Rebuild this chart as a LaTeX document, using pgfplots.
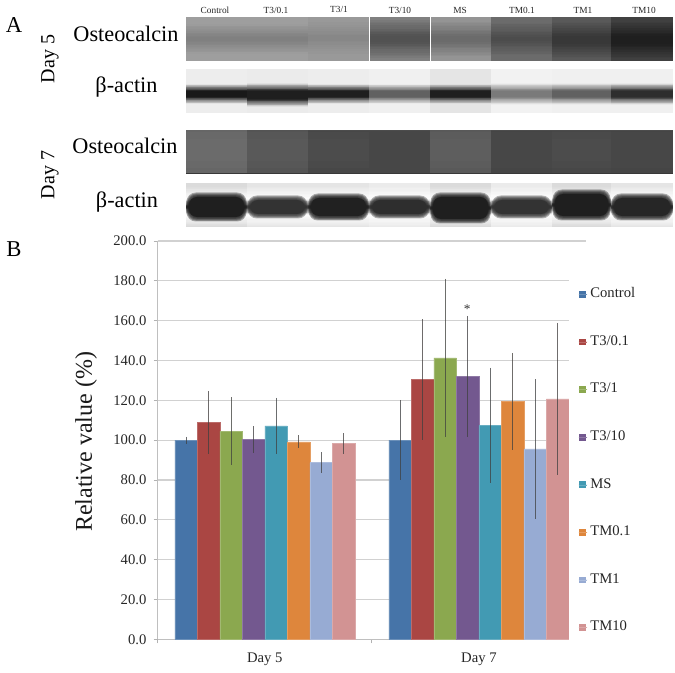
\documentclass[border=0pt]{standalone}
\usepackage{fontspec}
\setmainfont{Liberation Serif}
\usepackage{pgfplots}
\pgfplotsset{compat=1.18}
\definecolor{cA}{HTML}{4674A8}
\definecolor{cB}{HTML}{AA4643}
\definecolor{cC}{HTML}{8BA84F}
\definecolor{cD}{HTML}{73588F}
\definecolor{cE}{HTML}{429AB3}
\definecolor{cF}{HTML}{DE863C}
\definecolor{cG}{HTML}{97ABD3}
\definecolor{cH}{HTML}{D29393}
\definecolor{tx}{gray}{0.15}
% vertical gradient in strips: x0 x1 y0 y1 dark0 dark1
\newcommand{\grad}[6]{%
  \foreach \k in {0,...,9}{%
    \pgfmathtruncatemacro{\dd}{#5+(#6-(#5))*(\k+0.5)/10}%
    \pgfmathsetmacro{\ya}{#3+(#4-(#3))*\k/10}%
    \pgfmathsetmacro{\yb}{#3+(#4-(#3))*(\k+1.15)/10}%
    \fill[black!\dd!white] (#1,\ya) rectangle (#2,\yb);
  }%
}
% lane: x0 x1 ytop ybot bgdark banddark bandcentre bandcore bandsoft
\newcommand{\lane}[9]{%
  \fill[black!#5!white] (#1,#3) rectangle (#2,#4);
  \grad{#1}{#2}{#7-#8-#9}{#7-#8}{#5}{#6}
  \fill[black!#6!white] (#1,#7-#8) rectangle (#2,#7+#8);
  \grad{#1}{#2}{#7+#8}{#7+#8+#9}{#6}{#5}
}
% blob: x0 x1 bgdark dark centre halfheight (row 4)
\newcommand{\blob}[6]{%
  \begin{scope}
  \clip (#1,183.5) rectangle (#2,227);
  \fill[black!#3!white] (#1,183.5) rectangle (#2,227);
  \grad{#1}{#2}{187}{199}{#3}{1}
  \fill[black!1!white] (#1,198) rectangle (#2,216);
  \grad{#1}{#2}{215}{226}{1}{#3}
  \grad{#1}{#2}{#5-8}{#5}{1}{#4}
  \grad{#1}{#2}{#5}{#5+8}{#4}{1}
  \foreach \k in {5,4,3,2,1}
    \fill[black!#4!white,opacity=0.35,rounded corners=7pt]
      ({#1+3-\k*0.5},{#5-#6-\k*0.9}) rectangle ({#2-3+\k*0.5},{#5+#6+\k*0.9});
  \fill[black!#4!white,rounded corners=6pt] (#1+3,#5-#6) rectangle (#2-3,#5+#6);
  \end{scope}
}
\begin{document}
\begin{tikzpicture}
\begin{scope}[x=0.75pt,y=-0.75pt]
\path[use as bounding box] (0,0) rectangle (675,673);
% row 1 Osteocalcin day 5
\lane{186}{247}{17}{61}{38}{50}{39}{2}{14}
\lane{247}{308}{17}{61}{38}{50}{39}{2}{14}
\lane{308}{369}{17}{61}{40}{47}{38}{3}{14}
\lane{369.5}{430}{17}{61}{50}{68}{39}{3}{18}
\lane{430.5}{491}{17}{61}{42}{58}{39}{3}{16}
\lane{491}{552}{17}{61}{58}{70}{39}{2}{16}
\lane{552}{611}{17}{61}{65}{78}{40}{4}{16}
\lane{611}{673}{17}{61}{75}{88}{40}{4}{16}
% row 2 beta-actin day 5
\lane{186}{247}{69.5}{113}{7}{90}{94}{3}{7}
\lane{247}{308}{69.5}{113}{8}{88}{95}{4}{8}
\lane{308}{369}{69.5}{113}{7}{88}{94}{3}{7}
\lane{369}{430}{69.5}{113}{6}{62}{94}{3}{7}
\lane{430}{491}{69.5}{113}{10}{88}{94}{3}{7}
\lane{491}{552}{69.5}{113}{5}{52}{94}{3}{8}
\lane{552}{611}{69.5}{113}{6}{62}{94}{3}{8}
\lane{611}{673}{69.5}{113}{6}{82}{94}{3}{8}
% row 3 Osteocalcin day 7
\lane{186}{247}{130}{173}{60}{58}{150}{4}{14}
\lane{247}{308}{130}{173}{67}{65}{150}{4}{14}
\lane{308}{369}{130}{173}{72}{70}{150}{4}{14}
\lane{369}{430}{130}{173}{72}{72}{150}{4}{14}
\lane{430}{491}{130}{173}{65}{63}{150}{4}{14}
\lane{491}{552}{130}{173}{73}{72}{150}{4}{14}
\lane{552}{611}{130}{173}{72}{70}{150}{4}{14}
\lane{611}{673}{130}{173}{73}{72}{150}{4}{14}
\draw[black!78,line width=0.6pt] (186,173) -- (673,173);
\draw[black!70,line width=0.5pt] (308,130.3) -- (430,130.3) (491,130.3) -- (673,130.3);
% row 4 beta-actin day 7
\blob{186}{247}{14}{88}{207}{10}
\blob{247}{308}{10}{80}{207}{7}
\blob{308}{369}{10}{87}{207}{9}
\blob{369}{430}{8}{82}{207}{7}
\blob{430}{491}{14}{88}{208}{11}
\blob{491}{552}{8}{80}{207}{7}
\blob{552}{611}{14}{88}{205}{11}
\blob{611}{673}{10}{85}{207}{9}
% lane labels
\foreach \xx/\yy/\tt in {215/10/Control,276/10/T3\slash 0.1,339/9/T3\slash 1,400/10/T3\slash 10,460/10/MS,522/10/TM0.1,583/10/TM1,644/10/TM10}
  \node[font=\fontsize{7}{8}\selectfont,inner sep=0pt,text=black!85] at (\xx,\yy) {\tt};
% panel text
\node[font=\fontsize{17}{19}\selectfont,inner sep=0pt] at (14,25) {A};
\node[font=\fontsize{17}{19}\selectfont,inner sep=0pt] at (14,249) {B};
\node[font=\fontsize{16.7}{19}\selectfont,inner sep=0pt] at (126,34) {Osteocalcin};
\node[font=\fontsize{16.7}{19}\selectfont,inner sep=0pt] at (126.5,87) {β-actin};
\node[font=\fontsize{16.7}{19}\selectfont,inner sep=0pt] at (125,146) {Osteocalcin};
\node[font=\fontsize{16.7}{19}\selectfont,inner sep=0pt] at (127,202) {β-actin};
\node[font=\fontsize{15}{17}\selectfont,inner sep=0pt,rotate=90] at (50,59) {Day 5};
\node[font=\fontsize{15}{17}\selectfont,inner sep=0pt,rotate=90] at (50,175) {Day 7};
\end{scope}
\begin{axis}[
  at={(118.3pt,-479.5pt)},anchor=south west,
  scale only axis,width=321.2pt,height=298.7pt,
  xmin=0,xmax=2,ymin=0,ymax=200,
  ybar=0pt,bar width=16.875pt,
  axis x line*=bottom,axis y line*=left,
  axis line style={black!25,line width=0.8pt,-},
  ymajorgrids,grid style={black!18,line width=0.9pt},
  ytick={0,20,...,200},
  xtick={0.5,1.5},xticklabels={Day 5,Day 7},
  minor xtick={0,1,2},
  tick align=outside,
  major tick length=3pt,minor tick length=3pt,
  x tick style={draw=none},
  minor x tick style={draw=black!30,line width=0.7pt},
  y tick style={draw=black!30,line width=0.7pt},
  tick label style={font=\fontsize{11}{13}\selectfont,text=tx},
  xticklabel style={yshift=-4pt},
  yticklabel style={xshift=-2pt},
  /pgf/number format/assume math mode=true,
  /pgf/number format/fixed,/pgf/number format/fixed zerofill,/pgf/number format/precision=1,
  ylabel={Relative value (\%)},
  y label style={at={(axis description cs:-0.167,0.496)},anchor=center,font=\fontsize{18}{20}\selectfont,text=black!90},
  legend style={at={(0.96,0.912)},anchor=north west,draw=none,fill=white,
    font=\fontsize{11}{13}\selectfont,text=tx,row sep=24.7pt,inner xsep=7pt,inner ysep=8pt,
    nodes={text height=8pt,text depth=3pt,inner ysep=0pt}},
  legend cell align=left,
  legend image code/.code={\fill[#1,draw=none] (0cm,-2.6pt) rectangle (5.5pt,2.6pt);\path (0,0) -- (6.5pt,0);},
  error bars/y dir=both,error bars/y explicit,error bars/error mark=none,
  error bars/error bar style={draw=black!75,opacity=0.75,line width=0.65pt},
]
\addplot[fill=cA,draw=cA!80!white] coordinates {(0.5,100) +- (0,1.8) (1.5,100) +- (0,20)};
\addplot[fill=cB,draw=cB!80!white] coordinates {(0.5,109) +- (0,15.8) (1.5,130.5) +- (0,30.3)};
\addplot[fill=cC,draw=cC!80!white] coordinates {(0.5,104.5) +- (0,17) (1.5,141.3) +- (0,39.8)};
\addplot[fill=cD,draw=cD!80!white] coordinates {(0.5,100.3) +- (0,6.8) (1.5,131.9) +- (0,30.5)};
\addplot[fill=cE,draw=cE!80!white] coordinates {(0.5,107.2) +- (0,14.2) (1.5,107.4) +- (0,29)};
\addplot[fill=cF,draw=cF!80!white] coordinates {(0.5,99.2) +- (0,3.2) (1.5,119.5) +- (0,24.3)};
\addplot[fill=cG,draw=cG!80!white] coordinates {(0.5,88.8) +- (0,5.2) (1.5,95.6) +- (0,35)};
\addplot[fill=cH,draw=cH!80!white] coordinates {(0.5,98.3) +- (0,5.2) (1.5,120.8) +- (0,38.3)};
\legend{Control,T3/0.1,T3/1,T3/10,MS,TM0.1,TM1,TM10}
\node[font=\fontsize{10}{12}\selectfont,text=black!80,inner sep=0pt] at (axis cs:1.4457,166) {*};
\end{axis}
\end{tikzpicture}
\end{document}
